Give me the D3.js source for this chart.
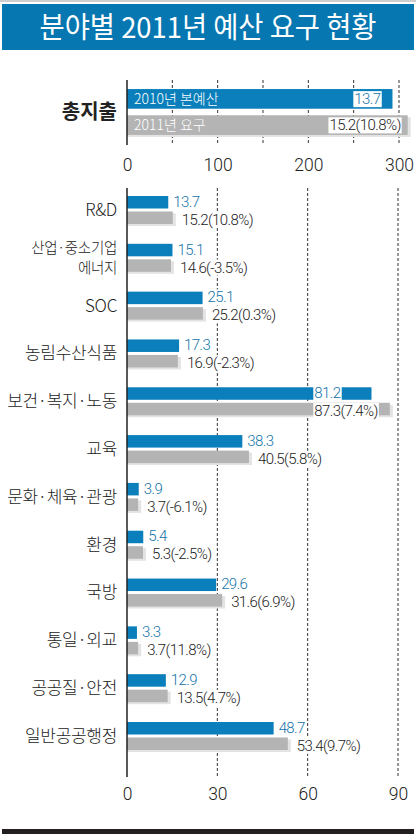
<!DOCTYPE html>
<html>
<head>
<meta charset="utf-8">
<script src="https://cdn.jsdelivr.net/npm/d3@7"></script>
<style>
  body { margin: 0; background: #fff; }
  svg text { font-family: "Noto Sans CJK KR", "Noto Sans", sans-serif; }
  svg text.num { font-family: Roboto, "Liberation Sans", sans-serif; font-weight: 300; }
</style>
</head>
<body>
<div id="holder"></div>
<script>
var title = '분야별 2011년 예산 요구 현황';

// 총지출 (top panel)
var totalSeries = ['2010년 본예산', '2011년 요구'];
var totalValues = [292.8, 309.6];
var totalLabels = ['13.7', '15.2(10.8%)'];
var topTicks = [0, 100, 200, 300];
var topGrid = [50, 100, 150, 200, 250, 300];

// by sector (bottom panel), 조원
var categories = ['R&D', '산업·중소기업\n에너지', 'SOC', '농림수산식품', '보건·복지·노동', '교육',
  '문화·체육·관광', '환경', '국방', '통일·외교', '공공질·안전', '일반공공행정'];
var budget2010 = [13.7, 15.1, 25.1, 17.3, 81.2, 38.3, 3.9, 5.4, 29.6, 3.3, 12.9, 48.7];
var request2011 = [15.2, 14.6, 25.2, 16.9, 87.3, 40.5, 3.7, 5.3, 31.6, 3.7, 13.5, 53.4];
var changePct = ['10.8', '-3.5', '0.3', '-2.3', '7.4', '5.8', '-6.1', '-2.5', '6.9', '11.8', '4.7', '9.7'];
var bottomTicks = [0, 30, 60, 90];
var bottomGrid = [30, 60, 90];

function generateChart() {
  var fullWidth = 416;
  var fullHeight = 834;
  var blue = '#0a7fbb';
  var gray = '#b4b4b4';
  var shade = '#e3e3e3';
  var blueText = '#1474a8';

  var svg = d3.select('#holder').append('svg')
    .attr('width', fullWidth)
    .attr('height', fullHeight);

  // title band
  svg.append('rect').attr('x', 0).attr('y', 0).attr('width', fullWidth).attr('height', 2).attr('fill', '#cfcfcf');
  svg.append('rect').attr('x', 2).attr('y', 4).attr('width', 412).attr('height', 46).attr('fill', '#0677b0');
  svg.append('text')
    .attr('x', 208).attr('y', 38)
    .attr('text-anchor', 'middle')
    .attr('fill', '#fff')
    .attr('font-size', 29)
    .attr('textLength', 337)
    .attr('lengthAdjust', 'spacingAndGlyphs')
    .text(title);

  // number label with a white box behind it
  function boxedLabel(g, x, y, txt, color, size, anchor) {
    var t = g.append('text')
      .classed('num', true)
      .attr('x', x).attr('y', y)
      .attr('dy', '0.35em')
      .attr('text-anchor', anchor || 'start')
      .attr('font-size', size)
      .attr('letter-spacing', -0.6)
      .attr('fill', color)
      .text(txt);
    var b = t.node().getBBox();
    g.insert('rect', function() { return t.node(); })
      .attr('x', b.x - 1).attr('y', b.y + 1)
      .attr('width', b.width + 2).attr('height', b.height - 2)
      .attr('fill', '#fff');
    return t;
  }

  // ---------- top panel ----------
  var xTop = d3.scaleLinear().domain([0, 300]).range([127, 399]);
  var yTop = d3.scaleBand().domain(totalSeries).range([88, 136]).paddingInner(0.25).paddingOuter(0.04);
  var top = svg.append('g').classed('top', true);

  top.selectAll('line.grid')
      .data(topGrid)
    .enter().append('line')
      .classed('grid', true)
      .attr('x1', function(d) { return xTop(d); })
      .attr('x2', function(d) { return xTop(d); })
      .attr('y1', 80).attr('y2', 145)
      .attr('stroke', '#333')
      .attr('stroke-width', 1)
      .attr('stroke-dasharray', '3,2');

  top.append('rect')
    .attr('x', xTop(0))
    .attr('y', yTop(totalSeries[1]) + 2)
    .attr('width', xTop(totalValues[1]) - xTop(0) + 3)
    .attr('height', yTop.bandwidth())
    .attr('fill', shade);

  top.selectAll('rect.bar')
      .data(totalValues)
    .enter().append('rect')
      .classed('bar', true)
      .attr('x', xTop(0))
      .attr('y', function(d, i) { return yTop(totalSeries[i]); })
      .attr('width', function(d) { return xTop(d) - xTop(0); })
      .attr('height', yTop.bandwidth())
      .attr('fill', function(d, i) { return i === 0 ? blue : gray; });

  top.selectAll('text.series')
      .data(totalSeries)
    .enter().append('text')
      .classed('series', true)
      .attr('x', xTop(0) + 7)
      .attr('y', function(d) { return yTop(d) + yTop.bandwidth() / 2; })
      .attr('dy', '0.35em')
      .attr('font-size', 14)
      .attr('font-weight', 300)
      .attr('fill', '#fff')
      .text(function(d) { return d; });

  totalValues.forEach(function(v, i) {
    boxedLabel(top, xTop(v) - (i === 0 ? 12 : 7), yTop(totalSeries[i]) + yTop.bandwidth() / 2,
      totalLabels[i], i === 0 ? blueText : '#222', 15, 'end');
  });

  top.append('line')
    .attr('x1', xTop(0)).attr('x2', xTop(0))
    .attr('y1', 80).attr('y2', 145)
    .attr('stroke', '#222').attr('stroke-width', 1.5);

  top.append('text')
    .attr('x', 117).attr('y', 112)
    .attr('dy', '0.35em')
    .attr('text-anchor', 'end')
    .attr('font-size', 20)
    .attr('font-weight', 'bold')
    .attr('fill', '#222')
    .text('총지출');

  var topAxis = top.append('g')
    .attr('transform', 'translate(0,156)')
    .call(d3.axisBottom(xTop).tickValues(topTicks).tickSize(0).tickPadding(3));
  topAxis.select('.domain').remove();
  topAxis.selectAll('text').classed('num', true).attr('font-size', 17.5).attr('fill', '#222');

  // ---------- bottom panel ----------
  var xBot = d3.scaleLinear().domain([0, 90]).range([127, 398]);
  var yBot = d3.scalePoint().domain(categories).range([210, 736]);
  var barH = 12.5;
  var bot = svg.append('g').classed('bottom', true);

  bot.selectAll('line.grid')
      .data(bottomGrid)
    .enter().append('line')
      .classed('grid', true)
      .attr('x1', function(d) { return xBot(d); })
      .attr('x2', function(d) { return xBot(d); })
      .attr('y1', 188).attr('y2', 777)
      .attr('stroke', '#333')
      .attr('stroke-width', 1)
      .attr('stroke-dasharray', '3,2');

  // shadow under the 2011 bars
  bot.selectAll('rect.shade')
      .data(request2011)
    .enter().append('rect')
      .classed('shade', true)
      .attr('x', xBot(0))
      .attr('y', function(d, i) { return yBot(categories[i]) + 3.5; })
      .attr('width', function(d) { return xBot(d) - xBot(0) + 3; })
      .attr('height', barH)
      .attr('fill', shade);

  bot.selectAll('rect.b2010')
      .data(budget2010)
    .enter().append('rect')
      .classed('b2010', true)
      .attr('x', xBot(0))
      .attr('y', function(d, i) { return yBot(categories[i]) - 14; })
      .attr('width', function(d) { return xBot(d) - xBot(0); })
      .attr('height', barH)
      .attr('fill', blue);

  bot.selectAll('rect.b2011')
      .data(request2011)
    .enter().append('rect')
      .classed('b2011', true)
      .attr('x', xBot(0))
      .attr('y', function(d, i) { return yBot(categories[i]) + 1.5; })
      .attr('width', function(d) { return xBot(d) - xBot(0); })
      .attr('height', barH)
      .attr('fill', gray);

  // value labels
  categories.forEach(function(c, i) {
    var cy = yBot(c);
    var t1 = boxedLabel(bot, xBot(budget2010[i]) + 5, cy - 8.5, budget2010[i].toFixed(1), blueText, 15);
    var t2 = boxedLabel(bot, xBot(request2011[i]) + 9, cy + 9.5, request2011[i].toFixed(1) + '(' + changePct[i] + '%)', '#222', 15);
    var w2 = t2.node().getComputedTextLength();
    if (xBot(request2011[i]) + 9 + w2 > fullWidth - 6) {
      // too long: pull both labels back over the bars
      var nx = xBot(request2011[i]) - w2 - 12;
      [t1, t2].forEach(function(t) {
        var dx = nx - (+t.attr('x'));
        t.attr('x', nx);
        var r = d3.select(t.node().previousSibling);
        r.attr('x', +r.attr('x') + dx);
      });
    }
  });

  bot.append('line')
    .attr('x1', xBot(0)).attr('x2', xBot(0))
    .attr('y1', 188).attr('y2', 777)
    .attr('stroke', '#222').attr('stroke-width', 1.5);

  // category labels
  categories.forEach(function(c) {
    var lines = c.split('\n');
    var size = lines.length > 1 ? 14.5 : 17;
    lines.forEach(function(l, j) {
      bot.append('text')
        .attr('x', 117)
        .attr('y', yBot(c) + (j - (lines.length - 1) / 2) * 20)
        .attr('dy', '0.35em')
        .attr('text-anchor', 'end')
        .attr('font-size', size)
        .attr('font-weight', 300)
        .attr('letter-spacing', -0.3)
        .attr('fill', '#222')
        .text(l);
    });
  });

  var botAxis = bot.append('g')
    .attr('transform', 'translate(0,785)')
    .call(d3.axisBottom(xBot).tickValues(bottomTicks).tickSize(0).tickPadding(3));
  botAxis.select('.domain').remove();
  botAxis.selectAll('text').classed('num', true).attr('font-size', 17.5).attr('fill', '#222');

  // bottom rule
  svg.append('rect').attr('x', 2).attr('y', 829).attr('width', 412).attr('height', 5).attr('fill', '#231f20');
}

generateChart();
</script>
</body>
</html>
